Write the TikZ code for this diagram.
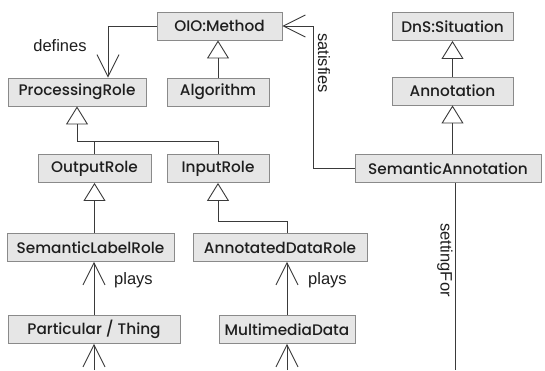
\documentclass[tikz,border=0pt]{standalone}
\usepackage{fontspec}
\setmainfont{Poppins}[UprightFont={* Medium}]
\newfontfamily\labelfont{Liberation Sans}
\usetikzlibrary{arrows.meta,calc}

\definecolor{boxfill}{HTML}{E6E6E6}
\definecolor{boxline}{HTML}{8A8A8A}
\definecolor{ink}{HTML}{3A3A3A}
\definecolor{txt}{HTML}{1E1E1E}

\tikzset{
  cls/.style={draw=boxline, fill=boxfill, line width=0.9pt, minimum height=28pt,
              inner sep=0pt, text=txt, font=\fontsize{15.3}{17}\selectfont},
  wire/.style={draw=ink, line width=0.9pt},
  gen/.style={wire, -{Triangle[open, length=18pt, width=22pt, line width=0.9pt]}},
  assoc/.style={wire, -{Straight Barb[length=22pt, width=22pt, line width=0.9pt]}},
  rel/.style={text=txt, font=\labelfont\fontsize{16.5}{18}\selectfont, inner sep=0pt},
}

\begin{document}
\begin{tikzpicture}[x=1pt, y=-1pt]
  \useasboundingbox[fill=white] (0,0) rectangle (545,370);

  % classes
  \node[cls, minimum width=125pt] (method)     at (219.5, 26)  {OIO:Method};
  \node[cls, minimum width=121pt] (situation)  at (452.5, 26.5){DnS:Situation};
  \node[cls, minimum width=138pt] (procrole)   at (77, 92)     {ProcessingRole};
  \node[cls, minimum width=102pt] (algorithm)  at (218, 92)    {Algorithm};
  \node[cls, minimum width=121pt] (annotation) at (452.5, 91)  {Annotation};
  \node[cls, minimum width=113pt] (outrole)    at (94.5, 168.5){OutputRole};
  \node[cls, minimum width=102pt] (inrole)     at (218, 168.5) {InputRole};
  \node[cls, minimum width=186pt] (semann)     at (448, 168.5) {SemanticAnnotation};
  \node[cls, minimum width=167pt] (semlabel)   at (90.5, 247.5){SemanticLabelRole};
  \node[cls, minimum width=174pt] (anndata)    at (280, 247.5) {AnnotatedDataRole};
  \node[cls, minimum width=172pt] (particular) at (94, 329.5)  {Particular / Thing};
  \node[cls, minimum width=136pt] (mmdata)     at (287, 329.5) {MultimediaData};

  % helper points
  \coordinate (defx)  at (108, 26);
  \coordinate (satx)  at (313, 26);
  \coordinate (joint) at (77, 141);
  \coordinate (injog) at (218, 221);
  \coordinate (semb)  at (455, 370);
  \coordinate (partb) at (94, 370);
  \coordinate (mmb)   at (287, 370);

  % method defines processing role
  \draw[assoc] (method.west) -- (defx) -- (defx |- procrole.north);
  \node[rel] (defines) at (60, 46) {defines};

  % algorithm is a method
  \draw[gen] (algorithm.north) -- (algorithm.north |- method.south);

  % role hierarchy
  \draw[wire] (outrole.north -| 94.5,0) -- (94.5,141);
  \draw[wire] (inrole.north) |- (joint);
  \draw[gen] (joint) -- (procrole.south);

  % semantic annotation satisfies method
  \draw[assoc] (semann.west) -- (semann.west -| satx) -- (satx) -- (method.east);
  \node[rel, rotate=-90] (satisfies) at (324, 63) {satisfies};

  % situation hierarchy
  \draw[gen] (annotation.north) -- (situation.south);
  \draw[gen] (semann.north -| annotation.north) -- (annotation.south);

  % setting
  \draw[wire] (semann.south -| semb) -- (semb);
  \node[rel, rotate=-90] (settingfor) at (445, 260) {settingFor};

  % output / input roles
  \draw[gen] (semlabel.north -| outrole.south) -- (outrole.south);
  \draw[gen] (injog) -- (inrole.south);
  \draw[wire] (injog) -| (anndata.north -| mmdata.north);

  % plays
  \draw[assoc] (particular.north) -- (particular.north |- semlabel.south);
  \node[rel, anchor=west] (plays1) at (114, 280) {plays};
  \draw[assoc] (mmdata.north) -- (mmdata.north |- anndata.south);
  \node[rel, anchor=west] (plays2) at (308, 280) {plays};

  % incoming from below
  \draw[assoc] (partb) -- (particular.south);
  \draw[assoc] (mmb) -- (mmdata.south);
\end{tikzpicture}
\end{document}
